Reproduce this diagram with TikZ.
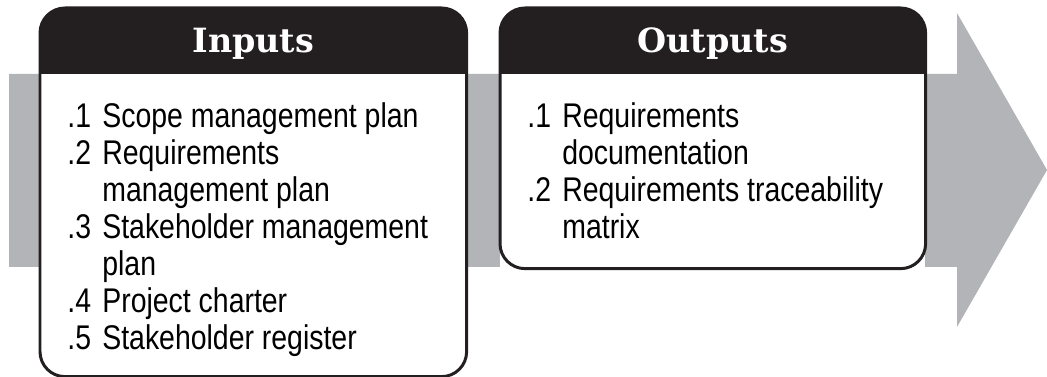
\documentclass[tikz,border=0pt]{standalone}
\usepackage{fontspec}
\setmainfont{Liberation Sans}[FakeStretch=0.83]
\newfontfamily\titlefont{DejaVu Serif}
\usetikzlibrary{positioning}
\definecolor{bandgray}{HTML}{B2B4B7}
\definecolor{headblack}{HTML}{231F20}
\newcommand{\itemlist}[1]{\begin{tabular}[t]{@{}p{0.7cm}@{}l@{}}#1\end{tabular}}

\begin{document}
\begin{tikzpicture}[
    x=0.02cm, y=-0.02cm,
    panel/.style={rectangle, fill=white, inner sep=0pt, anchor=north west},
    frame/.style={draw=headblack, line width=1.7pt, rounded corners=0.5cm},
    header/.style={fill=headblack},
    title/.style={anchor=base, text=white, font=\titlefont\bfseries\fontsize{19}{22}\selectfont},
    body/.style={anchor=base west, inner sep=0pt, font=\fontsize{19.5}{21}\selectfont}
]
\useasboundingbox (0,0) rectangle (1047,377);

% Arrow band
\fill[bandgray] (9,74) -- (957,74) -- (957,13) -- (1047,170) -- (957,327) -- (957,267) -- (9,267) -- cycle;

% Inputs
\node[panel, minimum width=8.52cm, minimum height=7.36cm] (inputs) at (40,8) {};
\begin{scope}
\clip[rounded corners=0.5cm] (inputs.north west) rectangle (inputs.south east);
\fill[header] (inputs.north west) rectangle ([yshift=-1.32cm]inputs.north east);
\end{scope}
\draw[frame] (inputs.north west) rectangle (inputs.south east);
\node[title] (inputs-title) at ([yshift=-0.9cm]inputs.north) {Inputs};
\node[body] (inputs-list) at ([xshift=0.54cm, yshift=-2.4cm]inputs.north west) {\itemlist{
  .1 & Scope management plan\\
  .2 & Requirements\\
     & management plan\\
  .3 & Stakeholder management\\
     & plan\\
  .4 & Project charter\\
  .5 & Stakeholder register}};

% Outputs
\node[panel, minimum width=8.5cm, minimum height=5.2cm] (outputs) at (500,8) {};
\begin{scope}
\clip[rounded corners=0.5cm] (outputs.north west) rectangle (outputs.south east);
\fill[header] (outputs.north west) rectangle ([yshift=-1.32cm]outputs.north east);
\end{scope}
\draw[frame] (outputs.north west) rectangle (outputs.south east);
\node[title] (outputs-title) at ([yshift=-0.9cm]outputs.north) {Outputs};
\node[body] (outputs-list) at ([xshift=0.54cm, yshift=-2.4cm]outputs.north west) {\itemlist{
  .1 & Requirements\\
     & documentation\\
  .2 & Requirements traceability\\
     & matrix}};

\end{tikzpicture}
\end{document}
